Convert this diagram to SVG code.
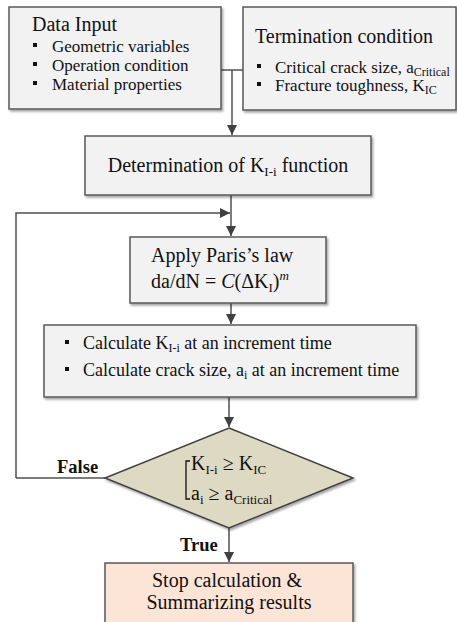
<svg xmlns="http://www.w3.org/2000/svg" width="457" height="622" viewBox="0 0 457 622" font-family="'Liberation Serif', 'DejaVu Serif', serif">
<style>
text{font-family:'Liberation Serif','DejaVu Serif',serif;fill:#111}
.box{fill:#F2F2F2;stroke:#595959;stroke-width:1.5}
.t20{font-size:20px}
.t18{font-size:18px}
.t17{font-size:17px}
.b{font-weight:bold;font-size:18.5px}
.ln{fill:none;stroke:#505050;stroke-width:1.5}
.bul{fill:#111}
</style>
<defs>
<marker id="arr" viewBox="0 0 10 10" refX="10" refY="5" markerWidth="10" markerHeight="10" markerUnits="userSpaceOnUse" orient="auto">
<path d="M0,0 L10,5 L0,10 z" fill="#404040"/>
</marker>
<filter id="sh" x="-5%" y="-5%" width="115%" height="120%">
<feDropShadow dx="1.5" dy="2" stdDeviation="1.2" flood-color="#000" flood-opacity="0.35"/>
</filter>
</defs>
<g id="connectors">
<polyline class="ln" points="221,70 243,70"/>
<polyline class="ln" points="232,70 232,135" marker-end="url(#arr)"/>
<polyline class="ln" points="231,195 231,236" marker-end="url(#arr)"/>
<polyline class="ln" points="16,478 16,213 230,213" marker-end="url(#arr)"/>
<polyline class="ln" points="16,478 105,478"/>
<polyline class="ln" points="231,303 231,324" marker-end="url(#arr)"/>
<polyline class="ln" points="229,397 229,427" marker-end="url(#arr)"/>
<polyline class="ln" points="229,528 229,562" marker-end="url(#arr)"/>
<text class="b" x="57" y="473">False</text>
<text class="b" x="180" y="551">True</text>
</g>
<g id="data-input">
<rect class="box" x="9" y="7" width="212" height="102" filter="url(#sh)"/>
<text class="t20" x="32" y="31">Data Input</text>
<rect class="bul" x="33" y="43" width="4" height="4"/>
<text class="t17" x="52" y="52">Geometric variables</text>
<rect class="bul" x="33" y="62" width="4" height="4"/>
<text class="t17" x="52" y="71">Operation condition</text>
<rect class="bul" x="33" y="81" width="4" height="4"/>
<text class="t17" x="52" y="90">Material properties</text>
</g>
<g id="termination">
<rect class="box" x="243" y="7" width="213" height="103" filter="url(#sh)"/>
<text class="t20" x="255" y="43">Termination condition</text>
<rect class="bul" x="257" y="64" width="4" height="4"/>
<text class="t17" x="275" y="73">Critical crack size, a<tspan font-size="12" dy="3">Critical</tspan></text>
<rect class="bul" x="257" y="82" width="4" height="4"/>
<text class="t17" x="275" y="91">Fracture toughness, K<tspan font-size="12" dy="3">IC</tspan></text>
</g>
<g id="determination">
<rect class="box" x="85" y="136" width="286" height="59" filter="url(#sh)"/>
<text class="t20" x="228" y="172" text-anchor="middle">Determination of K<tspan font-size="13" dy="4">I-i</tspan><tspan dy="-4"> function</tspan></text>
</g>
<g id="paris">
<rect class="box" x="130" y="237" width="196" height="66" filter="url(#sh)"/>
<text class="t20" x="151" y="262">Apply Paris’s law</text>
<text class="t20" x="151" y="288">da/dN = <tspan font-style="italic">C</tspan>(ΔK<tspan font-size="13" dy="4">I</tspan><tspan dy="-4">)</tspan><tspan font-style="italic" font-size="13" dy="-8">m</tspan></text>
</g>
<g id="calculate">
<rect class="box" x="44" y="325" width="372" height="72" filter="url(#sh)"/>
<rect class="bul" x="65" y="340" width="4" height="4"/>
<text class="t18" x="83" y="349">Calculate K<tspan font-size="12" dy="3">I-i</tspan><tspan dy="-3"> at an increment time</tspan></text>
<rect class="bul" x="65" y="367" width="4" height="4"/>
<text class="t18" x="83" y="376">Calculate crack size, a<tspan font-size="12" dy="3">i</tspan><tspan dy="-3"> at an increment time</tspan></text>
</g>
<g id="decision">
<polygon points="229,428 353,478 229,528 105,478" fill="#DDD9C3" stroke="#404040" stroke-width="1.5" filter="url(#sh)"/>
<polyline points="190,461 186,461 186,499 190,499" fill="none" stroke="#111" stroke-width="1.3"/>
<text class="t20" x="191" y="470">K<tspan font-size="13" dy="4">I-i</tspan><tspan dy="-4"> ≥ K</tspan><tspan font-size="13" dy="4">IC</tspan></text>
<text class="t20" x="191" y="500">a<tspan font-size="13" dy="4">i</tspan><tspan dy="-4"> ≥ a</tspan><tspan font-size="13" dy="4">Critical</tspan></text>
</g>
<g id="stop">
<rect x="105" y="563" width="248" height="70" fill="#FCE4D6" stroke="#595959" stroke-width="1.5" filter="url(#sh)"/>
<text class="t20" x="227" y="587" text-anchor="middle">Stop calculation &amp;</text>
<text class="t20" x="229" y="609" text-anchor="middle">Summarizing results</text>
</g>
</svg>
